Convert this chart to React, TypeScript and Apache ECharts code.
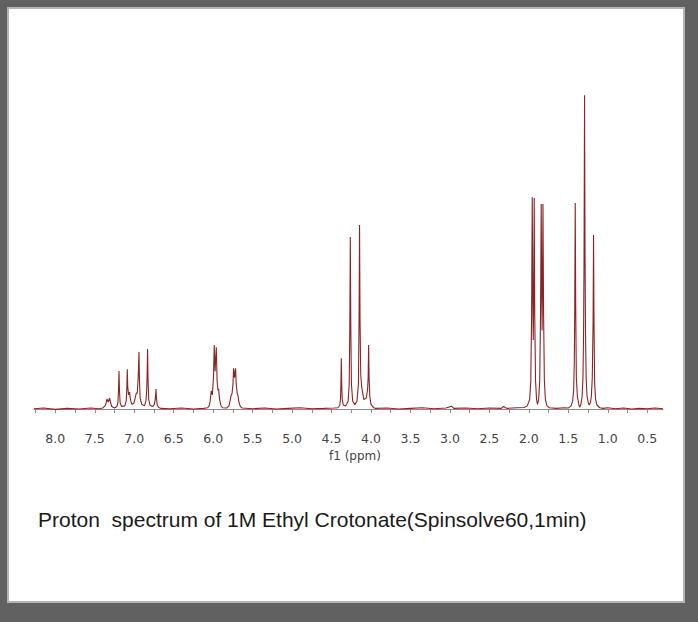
import React, { useEffect, useRef } from "react";
import * as echarts from "echarts";

// Axis labels and ticks (ppm)
const tickLabels = [8.0, 7.5, 7.0, 6.5, 6.0, 5.5, 5.0, 4.5, 4.0, 3.5, 3.0, 2.5, 2.0, 1.5, 1.0, 0.5];
const tickMarks = [8.25, 8.0, 7.75, 7.5, 7.25, 7.0, 6.75, 6.5, 6.25, 6.0, 5.75, 5.5, 5.25, 5.0, 4.75, 4.5, 4.25, 4.0, 3.75, 3.5, 3.25, 3.0, 2.75, 2.5, 2.25, 2.0, 1.75, 1.5, 1.25, 1.0, 0.75, 0.5];

// Spectrum: [ppm, relative intensity (tallest = 100)]
const baselineA: number[][] = [
  [8.27, 0.1], [8.15, 0.3], [8.0, -0.1], [7.85, 0.2], [7.7, 0.0], [7.55, 0.3], [7.45, 0.1],
];
const olefinicCH: number[][] = [
  [7.40, 0.3], [7.37, 1.0], [7.355, 2.0], [7.345, 3.2], [7.33, 2.2], [7.312, 3.5], [7.30, 2.0], [7.285, 0.8], [7.25, 0.3],
  [7.22, 0.8], [7.207, 2.0], [7.199, 6.0], [7.193, 12.1], [7.187, 6.0], [7.179, 2.0], [7.16, 0.8],
  [7.12, 1.0], [7.102, 2.5], [7.094, 6.5], [7.088, 12.7], [7.082, 7.0], [7.072, 4.5], [7.059, 5.4], [7.048, 3.0], [7.03, 1.5],
  [7.005, 1.8], [6.988, 3.5], [6.974, 5.1], [6.962, 5.0], [6.952, 9.0], [6.946, 13.0], [6.940, 18.2], [6.934, 9.5], [6.925, 3.5], [6.905, 1.5],
  [6.87, 1.0], [6.852, 2.5], [6.842, 6.0], [6.837, 10.0], [6.831, 19.1], [6.825, 9.5], [6.816, 3.0], [6.80, 1.2],
  [6.765, 0.8], [6.745, 1.5], [6.734, 3.0], [6.729, 4.5], [6.724, 6.4], [6.718, 3.3], [6.708, 1.2], [6.69, 0.5], [6.66, 0.2],
];
const baselineB: number[][] = [
  [6.55, 0.1], [6.4, 0.3], [6.25, 0.0], [6.12, 0.2], [6.07, 0.4],
];
const olefinicCO: number[][] = [
  [6.05, 1.0], [6.038, 2.5], [6.024, 5.8], [6.010, 4.5], [5.996, 10.0], [5.986, 20.4], [5.976, 12.0], [5.970, 12.0], [5.960, 19.7],
  [5.950, 9.0], [5.940, 6.0], [5.931, 6.4], [5.918, 3.0], [5.90, 1.0], [5.88, 0.4],
  [5.83, 0.3], [5.80, 1.0], [5.786, 2.5], [5.774, 4.2], [5.760, 5.0], [5.749, 8.0], [5.741, 13.0], [5.729, 10.0], [5.716, 13.0],
  [5.708, 8.0], [5.695, 5.0], [5.685, 4.2], [5.672, 2.0], [5.655, 0.8], [5.63, 0.3],
];
const baselineC: number[][] = [
  [5.5, 0.1], [5.35, 0.3], [5.2, 0.0], [5.05, 0.2], [4.9, 0.4], [4.75, 0.1], [4.6, 0.2], [4.47, 0.3],
];
const quartetOCH2: number[][] = [
  [4.42, 0.4], [4.395, 1.2], [4.386, 3.5], [4.381, 8.0], [4.376, 16.2], [4.371, 8.0], [4.364, 3.0], [4.35, 1.2], [4.32, 1.0],
  [4.290, 2.5], [4.276, 8.0], [4.268, 27.0], [4.262, 54.8], [4.256, 27.0], [4.248, 8.0], [4.232, 2.5], [4.205, 1.4],
  [4.178, 2.5], [4.159, 8.0], [4.151, 29.0], [4.145, 58.6], [4.139, 29.0], [4.130, 11.0], [4.118, 7.0], [4.090, 3.0],
  [4.060, 3.5], [4.044, 6.0], [4.036, 10.0], [4.030, 20.4], [4.024, 10.0], [4.015, 4.0], [4.00, 1.5], [3.97, 0.5], [3.94, 0.2],
];
const baselineD: number[][] = [
  [3.8, 0.3], [3.65, 0.0], [3.5, 0.2], [3.35, 0.4], [3.2, 0.1], [3.05, 0.3], [2.98, 0.9], [2.95, 0.2], [2.8, 0.3],
  [2.65, 0.1], [2.5, 0.3], [2.35, 0.2], [2.32, 0.8], [2.28, 0.2], [2.15, 0.4], [2.06, 0.5],
];
const doubletCH3: number[][] = [
  [2.02, 1.0], [1.990, 3.0], [1.975, 9.0], [1.965, 30.0], [1.957, 67.5], [1.950, 35.0], [1.944, 22.0], [1.938, 35.0], [1.932, 67.2],
  [1.925, 30.0], [1.915, 9.0], [1.902, 3.0], [1.890, 1.5], [1.876, 3.0], [1.862, 9.0], [1.852, 30.0], [1.843, 65.3],
  [1.837, 38.0], [1.832, 25.0], [1.827, 38.0], [1.821, 65.3], [1.813, 30.0], [1.803, 9.0], [1.79, 3.0], [1.77, 1.0], [1.74, 0.4],
];
const baselineE: number[][] = [
  [1.65, 0.2], [1.55, 0.4],
];
const tripletCH3: number[][] = [
  [1.50, 0.3], [1.465, 1.0], [1.445, 2.5], [1.432, 6.0], [1.424, 15.0], [1.418, 32.8], [1.412, 65.6], [1.406, 32.8], [1.398, 10.0],
  [1.385, 4.0], [1.365, 1.2], [1.353, 0.6], [1.340, 1.5], [1.325, 4.0], [1.314, 10.0], [1.306, 25.0], [1.300, 50.0], [1.294, 100],
  [1.288, 50.0], [1.282, 25.0], [1.274, 10.0], [1.262, 4.0], [1.245, 1.8], [1.235, 1.3], [1.220, 2.0], [1.208, 4.0], [1.196, 10.0],
  [1.186, 27.7], [1.180, 55.4], [1.174, 27.7], [1.166, 8.0], [1.154, 3.0], [1.135, 1.2], [1.10, 0.4], [1.06, 0.2],
];
const baselineF: number[][] = [
  [1.0, 0.4], [0.9, 0.1], [0.8, 0.3], [0.7, 0.0], [0.6, 0.2], [0.5, 0.1], [0.4, 0.3], [0.30, 0.1],
];

const caption = "Proton  spectrum of 1M Ethyl Crotonate(Spinsolve60,1min)";
const axisName = "f1 (ppm)";

export default function App() {
  const ref = useRef<HTMLDivElement>(null);
  useEffect(() => {
    if (!ref.current) return;
    const chart = echarts.init(ref.current, undefined, { renderer: "svg" });
    const spectrum = [
      ...baselineA, ...olefinicCH, ...baselineB, ...olefinicCO, ...baselineC,
      ...quartetOCH2, ...baselineD, ...doubletCH3, ...baselineE, ...tripletCH3, ...baselineF,
    ];
    chart.setOption({
      animation: false,
      backgroundColor: "#616161",
      graphic: [
        {
          type: "rect",
          z: -100,
          shape: { x: 8, y: 8, width: 676, height: 594 },
          style: { fill: "#ffffff", stroke: "#b4b4b4", lineWidth: 2 },
        },
        {
          type: "text",
          z: 100,
          x: 38,
          y: 519,
          style: {
            text: caption,
            fill: "#1a1a1a",
            font: '21px "Liberation Sans", Arial, sans-serif',
            verticalAlign: "middle",
            align: "left",
          },
        },
      ],
      grid: { left: 34, right: 35, top: 92, bottom: 202, containLabel: false },
      xAxis: {
        type: "value",
        inverse: true,
        min: 0.3,
        max: 8.27,
        name: axisName,
        nameLocation: "middle",
        nameGap: 23,
        nameTextStyle: {
          color: "#444444",
          fontSize: 12,
          fontFamily: '"DejaVu Sans", Verdana, sans-serif',
          padding: [0, 0, 0, 13],
        },
        axisLine: { show: true, lineStyle: { color: "#8c8c8c", width: 1 } },
        axisTick: { show: true, length: 4, lineStyle: { color: "#8c8c8c" }, customValues: tickMarks },
        axisLabel: {
          color: "#444444",
          fontSize: 12.5,
          fontFamily: '"DejaVu Sans", Verdana, sans-serif',
          margin: 12,
          customValues: tickLabels,
          formatter: (v: number) => v.toFixed(1),
        },
        splitLine: { show: false },
      },
      yAxis: {
        type: "value",
        min: -3.5,
        max: 101,
        show: false,
        splitLine: { show: false },
      },
      series: [
        {
          type: "line",
          data: spectrum,
          showSymbol: false,
          symbol: "none",
          silent: true,
          lineStyle: { color: "#8b2424", width: 1.1 },
        },
      ],
    });
    return () => chart.dispose();
  }, []);
  return (
    <div
      ref={ref}
      style={{ position: "absolute", left: 0, top: 0, width: 698, height: 622 }}
    />
  );
}
